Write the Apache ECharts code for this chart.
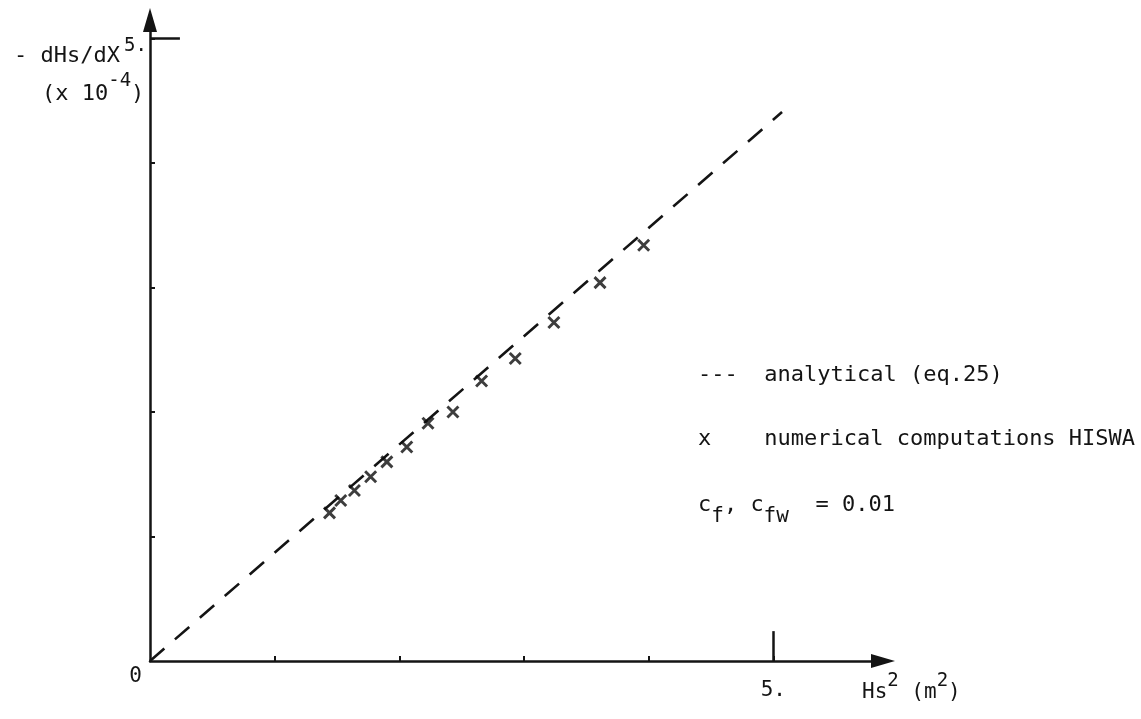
<!DOCTYPE html>
<html>
<head>
<meta charset="utf-8">
<script src="https://cdn.jsdelivr.net/npm/echarts@6/dist/echarts.min.js"></script>
<style>
html,body{margin:0;padding:0;background:#fff;}
#chart{width:1141px;height:719px;}
</style>
</head>
<body>
<div id="chart"></div>
<script>
// ---- data ----
const hs2 = [1.44, 1.53, 1.64, 1.77, 1.90, 2.06, 2.23, 2.43, 2.66, 2.93, 3.24, 3.61, 3.96];
const dHsdX = [1.19, 1.29, 1.37, 1.48, 1.60, 1.72, 1.91, 2.00, 2.25, 2.43, 2.72, 3.04, 3.34];
const analyticX = [0, 5.07];
const analyticY = [0, 4.41];
const xTickValues = [1, 2, 3, 4, 5];
const yTickValues = [1, 2, 3, 4, 5];
const xLabelValues = [5];
const yLabelValues = [0, 5];
const tickLabelText = {0: '0', 5: '5.'};

const ink = '#141414';
const mono = 'DejaVu Sans Mono';

const chart = echarts.init(document.getElementById('chart'));
const scatterData = hs2.map((x, i) => [x, dHsdX[i]]);
const lineData = analyticX.map((x, i) => [x, analyticY[i]]);

chart.setOption({
  backgroundColor: '#ffffff',
  animation: false,
  grid: {left: 150, right: 258, top: 20, bottom: 58},
  xAxis: {
    type: 'value', min: 0, max: 5.88,
    axisLine: {show: true, lineStyle: {color: ink, width: 2.5}, symbol: ['none', 'triangle'], symbolSize: [14, 24]},
    axisTick: {show: true, inside: true, length: 5, customValues: xTickValues, lineStyle: {color: ink, width: 2}},
    axisLabel: {show: true, customValues: xLabelValues, formatter: v => tickLabelText[v] || '', margin: 19,
      fontFamily: mono, fontSize: 21, color: ink},
    splitLine: {show: false}
  },
  yAxis: {
    type: 'value', min: 0, max: 5.15,
    axisLine: {show: true, lineStyle: {color: ink, width: 2.5}, symbol: ['none', 'triangle'], symbolSize: [14, 24]},
    axisTick: {show: true, inside: true, length: 5, customValues: yTickValues, lineStyle: {color: ink, width: 2}},
    axisLabel: {show: true, customValues: yLabelValues, margin: 3,
      formatter: v => v === 0 ? '{b|' + tickLabelText[v] + '}' : '{a|' + tickLabelText[v] + '}',
      rich: {
        a: {fontFamily: mono, fontSize: 19, color: ink, padding: [14, 0, 0, 0]},
        b: {fontFamily: mono, fontSize: 21, color: ink, padding: [32, 5, 0, 0]}
      }},
    splitLine: {show: false}
  },
  series: [
    {
      type: 'line', name: 'analytical (eq.25)', data: lineData, showSymbol: false, symbol: 'none',
      lineStyle: {color: ink, width: 2.6, type: [19, 14]}, clip: false, z: 2
    },
    {
      type: 'scatter', name: 'numerical computations HISWA', data: scatterData,
      symbol: 'path://M0,0L10,10M10,0L0,10', symbolSize: 11,
      itemStyle: {color: 'transparent', borderColor: '#0d0d0d', borderWidth: 2.9},
      z: 3,
      markLine: {
        silent: true, symbol: ['none', 'none'], label: {show: false},
        lineStyle: {color: ink, width: 2.5, type: 'solid'},
        data: [
          [{coord: [0, 5]}, {coord: [0.24, 5]}],
          [{coord: [5, 0]}, {coord: [5, 0.24]}]
        ]
      }
    }
  ],
  graphic: [
    {type: 'text', left: 14, top: 45, style: {text: '- dHs/dX', font: '22px ' + mono, fill: ink}},
    {type: 'text', left: 42, top: 72, style: {
      text: '{n|(x 10}{s|-4}{n|)}', fill: ink,
      rich: {n: {font: '22px ' + mono, fill: ink, padding: [16, 0, 0, 0]}, s: {font: '19px ' + mono, fill: ink, padding: [0, 0, 10, 0]}}
    }},
    {type: 'text', left: 862, top: 672, style: {
      text: '{n|Hs}{s|2}{n| (m}{s|2}{n|)}', fill: ink,
      rich: {n: {font: '21px ' + mono, fill: ink, padding: [14, 0, 0, 0]}, s: {font: '19px ' + mono, fill: ink, padding: [0, 0, 8, 0]}}
    }},
    {type: 'text', left: 698, top: 364, style: {text: '---  analytical (eq.25)', font: '22px ' + mono, fill: ink}},
    {type: 'text', left: 698, top: 428, style: {text: 'x    numerical computations HISWA', font: '22px ' + mono, fill: ink}},
    {type: 'text', left: 698, top: 494, style: {
      text: '{n|c}{s|f}{n|, c}{s|fw}{n|  = 0.01}', fill: ink,
      rich: {n: {font: '22px ' + mono, fill: ink, padding: [0, 0, 12, 0]}, s: {font: '21px ' + mono, fill: ink, padding: [12, 0, 0, 0]}}
    }}
  ]
});
</script>
</body>
</html>
